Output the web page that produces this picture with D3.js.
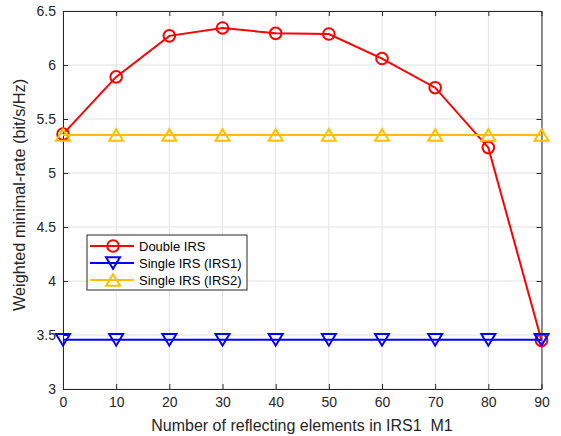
<!DOCTYPE html>
<html>
<head>
<meta charset="utf-8">
<script src="https://cdn.jsdelivr.net/npm/d3@7"></script>
<style>
  html, body { margin: 0; padding: 0; background: #fff; }
  svg { display: block; font-family: "Liberation Sans", Arial, sans-serif; }
</style>
</head>
<body>
<svg id="chart" width="561" height="436"></svg>
<script>
// Number of reflecting elements in IRS1
const elements = [0, 10, 20, 30, 40, 50, 60, 70, 80, 90];
// Weighted minimal rate (bit/s/Hz)
const doubleIRS = [5.36, 5.89, 6.27, 6.343, 6.293, 6.287, 6.06, 5.79, 5.235, 3.45];
const singleIRS1 = [3.455, 3.455, 3.455, 3.455, 3.455, 3.455, 3.455, 3.455, 3.455, 3.455];
const singleIRS2 = [5.352, 5.352, 5.352, 5.352, 5.352, 5.352, 5.352, 5.352, 5.352, 5.352];
const xTicks = [0, 10, 20, 30, 40, 50, 60, 70, 80, 90];
const yTicks = [3, 3.5, 4, 4.5, 5, 5.5, 6, 6.5];
const seriesNames = ["Double IRS", "Single IRS (IRS1)", "Single IRS (IRS2)"];

const svg = d3.select("#chart");
const m = { left: 63, right: 541.5, top: 11, bottom: 389 };

const x = d3.scaleLinear().domain([0, 90]).range([m.left, m.right]);
const y = d3.scaleLinear().domain([3, 6.5]).range([m.bottom, m.top]);

// grid
const grid = svg.append("g").attr("stroke", "#e3e3e3").attr("stroke-width", 1);
xTicks.forEach(t => grid.append("line")
  .attr("x1", x(t)).attr("x2", x(t)).attr("y1", m.top).attr("y2", m.bottom));
yTicks.forEach(t => grid.append("line")
  .attr("x1", m.left).attr("x2", m.right).attr("y1", y(t)).attr("y2", y(t)));

// axes with inward ticks
const axisColor = "#262626";
const fmt = d => String(d);
const xAxis = svg.append("g").attr("transform", `translate(0,${m.bottom})`)
  .call(d3.axisBottom(x).tickValues(xTicks).tickFormat(fmt).tickSizeInner(-5).tickSizeOuter(0).tickPadding(8));
const yAxis = svg.append("g").attr("transform", `translate(${m.left},0)`)
  .call(d3.axisLeft(y).tickValues(yTicks).tickFormat(fmt).tickSizeInner(-5).tickSizeOuter(0).tickPadding(7));
const xAxisTop = svg.append("g").attr("transform", `translate(0,${m.top})`)
  .call(d3.axisTop(x).tickValues(xTicks).tickFormat("").tickSizeInner(-5).tickSizeOuter(0));
const yAxisRight = svg.append("g").attr("transform", `translate(${m.right},0)`)
  .call(d3.axisRight(y).tickValues(yTicks).tickFormat("").tickSizeInner(-5).tickSizeOuter(0));
[xAxis, yAxis, xAxisTop, yAxisRight].forEach(a => {
  a.select(".domain").attr("stroke", axisColor).attr("stroke-width", 1);
  a.selectAll(".tick line").attr("stroke", axisColor);
  a.selectAll("text").attr("fill", "#262626").attr("font-size", 14)
    .attr("font-family", "Liberation Sans, Arial, sans-serif");
});

// axis labels
svg.append("text").attr("x", 302).attr("y", 431)
  .attr("text-anchor", "middle").attr("font-size", 16).attr("fill", "#262626")
  .style("white-space", "pre")
  .text("Number of reflecting elements in IRS1  M1");
svg.append("text").attr("transform", `translate(25,195) rotate(-90)`)
  .attr("text-anchor", "middle").attr("font-size", 16.3).attr("fill", "#262626")
  .text("Weighted minimal-rate (bit/s/Hz)");

// marker shapes
function marker(g, kind, cx, cy, color) {
  if (kind === "circle") {
    g.append("circle").attr("cx", cx).attr("cy", cy).attr("r", 5.8)
      .attr("fill", "none").attr("stroke", color).attr("stroke-width", 2);
  } else {
    const w = 7, h = 5.8;
    const pts = kind === "down"
      ? [[cx - w, cy - h], [cx + w, cy - h], [cx, cy + h]]
      : [[cx - w, cy + h], [cx + w, cy + h], [cx, cy - h]];
    g.append("polygon").attr("points", pts.map(p => p.join(",")).join(" "))
      .attr("fill", "none").attr("stroke", color).attr("stroke-width", 2);
  }
}

const series = [
  { name: seriesNames[0], values: doubleIRS, color: "#ff0000", kind: "circle" },
  { name: seriesNames[1], values: singleIRS1, color: "#0000ff", kind: "down" },
  { name: seriesNames[2], values: singleIRS2, color: "#ffbf00", kind: "up" }
];

const line = d3.line().x((d, i) => x(elements[i])).y(d => y(d));
const plot = svg.append("g");
series.forEach(s => {
  const g = plot.append("g");
  g.append("path").datum(s.values).attr("d", line)
    .attr("fill", "none").attr("stroke", s.color).attr("stroke-width", 2);
  s.values.forEach((v, i) => marker(g, s.kind, x(elements[i]), y(v), s.color));
});

// legend
const lg = svg.append("g").attr("transform", "translate(87,235)");
lg.append("rect").attr("width", 160).attr("height", 55)
  .attr("fill", "#fff").attr("stroke", "#262626").attr("stroke-width", 1);
series.forEach((s, i) => {
  const cy = 11 + i * 17;
  lg.append("line").attr("x1", 3).attr("x2", 47).attr("y1", cy).attr("y2", cy)
    .attr("stroke", s.color).attr("stroke-width", 2);
  marker(lg, s.kind, 26, cy, s.color);
  lg.append("text").attr("x", 52).attr("y", cy + 4.7).attr("font-size", 13)
    .attr("fill", "#000").text(s.name);
});
</script>
</body>
</html>
